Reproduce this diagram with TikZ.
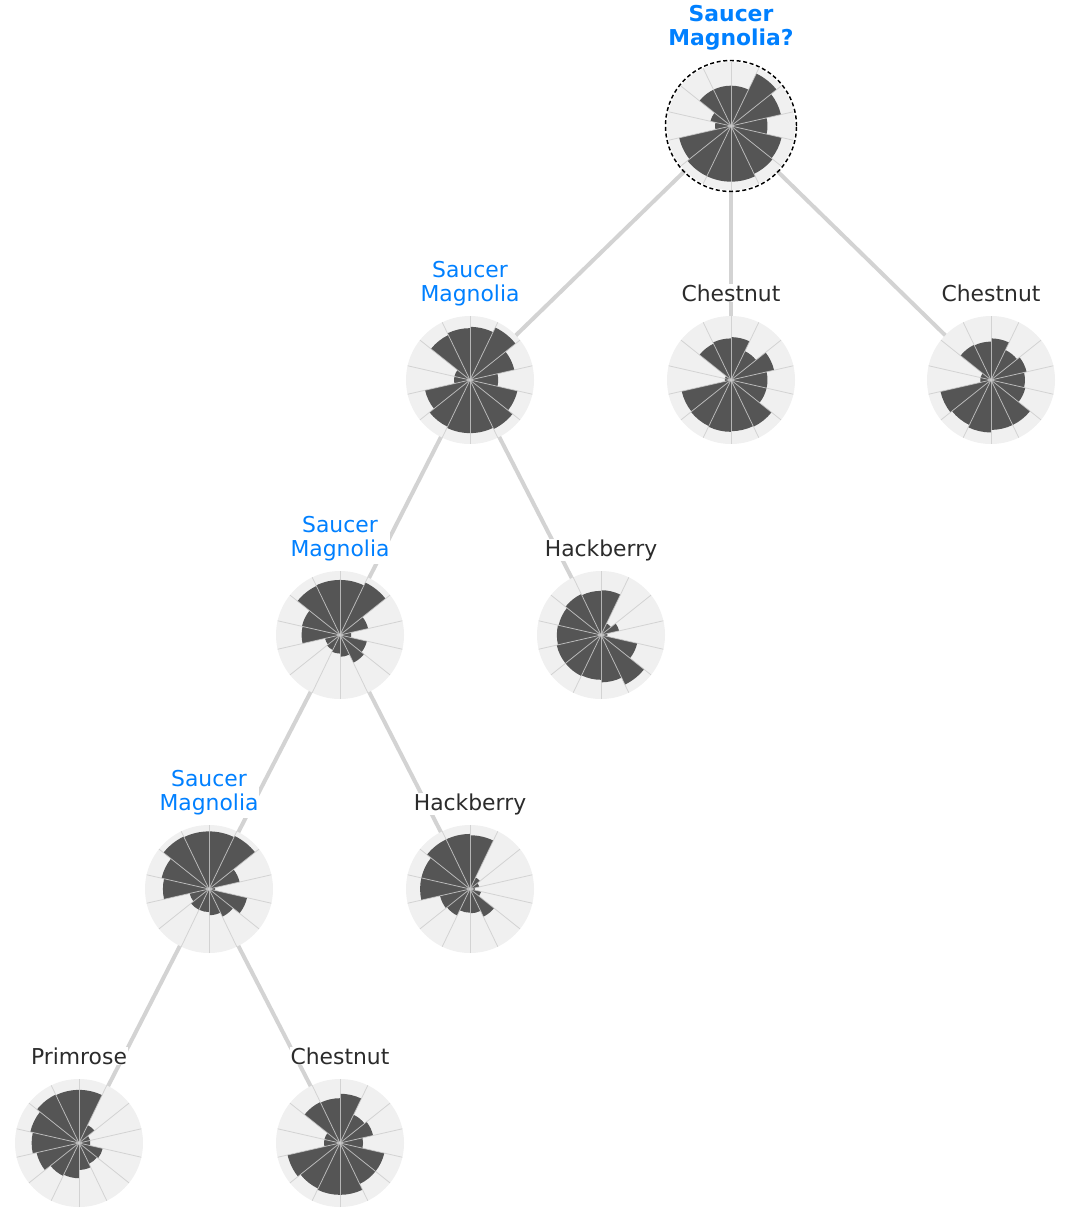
\documentclass[tikz,border=0pt]{standalone}
\usepackage{fontspec}
\setmainfont{DejaVu Sans}
\definecolor{bargray}{HTML}{555555}
\definecolor{ringgray}{HTML}{F0F0F0}
\definecolor{linkgray}{HTML}{D3D3D3}
\definecolor{magblue}{HTML}{0080FF}
\definecolor{txtgray}{HTML}{2B2B2B}

\begin{document}
\begin{tikzpicture}[x=0.75pt, y=0.75pt,
  chart/.style = {circle, fill=ringgray, inner sep=0pt, outer sep=0pt, minimum size=96pt},
  bar/.style = {fill=bargray},
  spoke/.style = {draw=black!20, opacity=0.8, line width=0.6pt},
  link/.style = {draw=linkgray, line width=3pt},
  lbl/.style = {anchor=base, inner sep=0.5pt, fill=white, text=txtgray, font=\fontsize{16.4}{18}\selectfont},
  hit/.style = {lbl, text=magblue}]
\useasboundingbox (0,0) rectangle (1067,-1219);

\node[chart] (root) at (731,-126) {};
\node[chart] (sm1) at (470,-380) {};
\node[chart] (cn1) at (731,-380) {};
\node[chart] (cn2) at (991,-380) {};
\node[chart] (sm2) at (340,-635) {};
\node[chart] (hb1) at (601,-635) {};
\node[chart] (sm3) at (209,-889) {};
\node[chart] (hb2) at (470,-889) {};
\node[chart] (pr) at (79,-1143) {};
\node[chart] (cn3) at (340,-1143) {};

\draw[link] (root) -- (sm1);
\draw[link] (root) -- (cn1);
\draw[link] (root) -- (cn2);
\draw[link] (sm1) -- (sm2);
\draw[link] (sm1) -- (hb1);
\draw[link] (sm2) -- (sm3);
\draw[link] (sm2) -- (hb2);
\draw[link] (sm3) -- (pr);
\draw[link] (sm3) -- (cn3);

% rose bars, clockwise from the top
\foreach \nd/\vals in {
  root/{0.63,0.91,0.80,0.57,0.81,0.83,0.87,0.87,0.87,0.83,0.25,0.33,0.63,0.63},
  sm1/{0.83,0.91,0.71,0.44,0.76,0.85,0.83,0.83,0.81,0.72,0.25,0.25,0.78,0.81},
  cn1/{0.67,0.50,0.69,0.57,0.57,0.81,0.80,0.81,0.80,0.79,0.10,0.10,0.63,0.65},
  cn2/{0.65,0.52,0.57,0.53,0.55,0.78,0.78,0.82,0.78,0.81,0.17,0.17,0.61,0.60},
  sm2/{0.86,0.91,0.45,0.18,0.43,0.48,0.34,0.29,0.26,0.24,0.60,0.61,0.85,0.86},
  hb1/{0.70,0.20,0.29,0.10,0.58,0.86,0.74,0.70,0.71,0.71,0.69,0.68,0.71,0.69},
  sm3/{0.90,0.92,0.49,0.10,0.61,0.48,0.41,0.36,0.36,0.31,0.72,0.76,0.91,0.90},
  hb2/{0.84,0.20,0.15,0.08,0.18,0.48,0.38,0.37,0.46,0.48,0.78,0.78,0.86,0.86},
  pr/{0.83,0.31,0.18,0.18,0.38,0.36,0.42,0.55,0.57,0.68,0.74,0.78,0.84,0.83},
  cn3/{0.77,0.49,0.53,0.36,0.71,0.71,0.81,0.81,0.79,0.84,0.25,0.25,0.71,0.70}}{
  \foreach \v [count=\k from 0] in \vals
    \fill[bar] (\nd.center) -- ++({90-\k*360/14}:{\v*64}) arc[start angle={90-\k*360/14}, delta angle={-360/14}, radius={\v*64}] -- cycle;
  \foreach \k in {0,...,13}
    \draw[spoke] (\nd.center) -- ++({90-\k*360/14}:64);
}

\draw[densely dashed, line width=1.1pt] (root.center) circle[radius=65.5];

% labels
\node[hit, font=\fontsize{16.4}{18}\selectfont\bfseries] (root-l) at ([yshift=12pt]root.north) {\begin{tabular}[b]{@{}c@{}}Saucer\\Magnolia?\end{tabular}};
\node[hit] (sm1-l) at ([yshift=11.25pt]sm1.north) {\begin{tabular}[b]{@{}c@{}}Saucer\\Magnolia\end{tabular}};
\node[lbl] (cn1-l) at ([yshift=11.25pt]cn1.north) {Chestnut};
\node[lbl] (cn2-l) at ([yshift=11.25pt]cn2.north) {Chestnut};
\node[hit] (sm2-l) at ([yshift=11.25pt]sm2.north) {\begin{tabular}[b]{@{}c@{}}Saucer\\Magnolia\end{tabular}};
\node[lbl] (hb1-l) at ([yshift=11.25pt]hb1.north) {Hackberry};
\node[hit] (sm3-l) at ([yshift=11.25pt]sm3.north) {\begin{tabular}[b]{@{}c@{}}Saucer\\Magnolia\end{tabular}};
\node[lbl] (hb2-l) at ([yshift=11.25pt]hb2.north) {Hackberry};
\node[lbl] (pr-l) at ([yshift=11.25pt]pr.north) {Primrose};
\node[lbl] (cn3-l) at ([yshift=11.25pt]cn3.north) {Chestnut};
\end{tikzpicture}
\end{document}
